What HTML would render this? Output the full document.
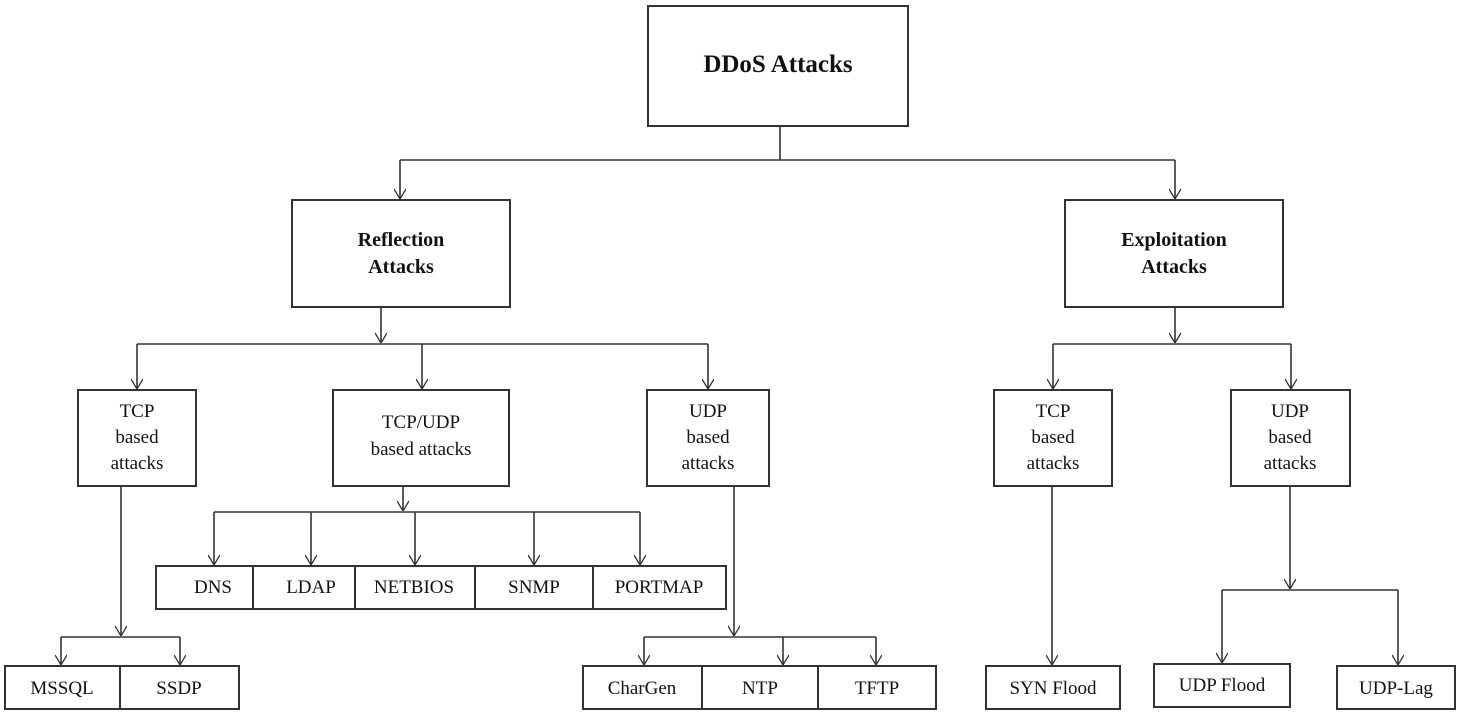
<!DOCTYPE html>
<html><head><meta charset="utf-8"><style>
html,body{margin:0;padding:0;background:#fff;}
svg{display:block;}
text{font-family:"Liberation Serif",serif;fill:#111;text-anchor:middle;}
.b{font-weight:bold;}
</style></head><body>
<svg width="1458" height="712" viewBox="0 0 1458 712" xmlns="http://www.w3.org/2000/svg">
<defs>
<marker id="a" viewBox="0 0 12 12" refX="12" refY="6" markerWidth="12" markerHeight="12" markerUnits="userSpaceOnUse" orient="auto">
<path d="M2,0 L12,6 L2,12" fill="none" stroke="#333" stroke-width="1.3"/>
</marker>
</defs>
<g fill="none" stroke="#333" stroke-width="2">
<rect x="648" y="6" width="260" height="120"/>
<rect x="292" y="200" width="218" height="107"/>
<rect x="1065" y="200" width="218" height="107"/>
<rect x="78" y="390" width="118" height="96"/>
<rect x="333" y="390" width="176" height="96"/>
<rect x="647" y="390" width="122" height="96"/>
<rect x="994" y="390" width="118" height="96"/>
<rect x="1231" y="390" width="119" height="96"/>
<rect x="156" y="566" width="570" height="43"/>
<path d="M253,566V609M355,566V609M475,566V609M593,566V609"/>
<rect x="5" y="666" width="234" height="43"/>
<path d="M120,666V709"/>
<rect x="583" y="666" width="353" height="43"/>
<path d="M702,666V709M818,666V709"/>
<rect x="986" y="666" width="134" height="43"/>
<rect x="1154" y="664" width="136" height="43"/>
<rect x="1337" y="666" width="118" height="43"/>
</g>
<g fill="none" stroke="#333" stroke-width="1.6">
<path d="M780,126V160M400,160H1175"/>
<path d="M400,160V199" marker-end="url(#a)"/>
<path d="M1175,160V199" marker-end="url(#a)"/>
<path d="M381,307V343" marker-end="url(#a)"/>
<path d="M137,344H708"/>
<path d="M137,344V389" marker-end="url(#a)"/>
<path d="M422,344V389" marker-end="url(#a)"/>
<path d="M708,344V389" marker-end="url(#a)"/>
<path d="M1175,307V343" marker-end="url(#a)"/>
<path d="M1053,344H1291"/>
<path d="M1053,344V389" marker-end="url(#a)"/>
<path d="M1291,344V389" marker-end="url(#a)"/>
<path d="M403,486V511" marker-end="url(#a)"/>
<path d="M214,512H640"/>
<path d="M214,512V565" marker-end="url(#a)"/>
<path d="M311,512V565" marker-end="url(#a)"/>
<path d="M415,512V565" marker-end="url(#a)"/>
<path d="M534,512V565" marker-end="url(#a)"/>
<path d="M640,512V565" marker-end="url(#a)"/>
<path d="M121,486V636" marker-end="url(#a)"/>
<path d="M61,637H180"/>
<path d="M61,637V665" marker-end="url(#a)"/>
<path d="M180,637V665" marker-end="url(#a)"/>
<path d="M734,486V636" marker-end="url(#a)"/>
<path d="M644,637H876"/>
<path d="M644,637V665" marker-end="url(#a)"/>
<path d="M783,637V665" marker-end="url(#a)"/>
<path d="M876,637V665" marker-end="url(#a)"/>
<path d="M1052,486V665" marker-end="url(#a)"/>
<path d="M1290,486V589" marker-end="url(#a)"/>
<path d="M1222,590H1398"/>
<path d="M1222,590V663" marker-end="url(#a)"/>
<path d="M1398,590V665" marker-end="url(#a)"/>
</g>
<text x="778" y="72" font-size="25" class="b">DDoS Attacks</text>
<text x="401" y="246" font-size="20" class="b">Reflection</text>
<text x="401" y="273" font-size="20" class="b">Attacks</text>
<text x="1174" y="246" font-size="20" class="b">Exploitation</text>
<text x="1174" y="273" font-size="20" class="b">Attacks</text>
<g font-size="19">
<text x="137" y="417">TCP</text><text x="137" y="443">based</text><text x="137" y="469">attacks</text>
<text x="421" y="428">TCP/UDP</text><text x="421" y="455">based attacks</text>
<text x="708" y="417">UDP</text><text x="708" y="443">based</text><text x="708" y="469">attacks</text>
<text x="1053" y="417">TCP</text><text x="1053" y="443">based</text><text x="1053" y="469">attacks</text>
<text x="1290" y="417">UDP</text><text x="1290" y="443">based</text><text x="1290" y="469">attacks</text>
<text x="213" y="593">DNS</text><text x="311" y="593">LDAP</text><text x="414" y="593">NETBIOS</text><text x="534" y="593">SNMP</text><text x="659" y="593">PORTMAP</text>
<text x="62" y="694">MSSQL</text><text x="179" y="694">SSDP</text>
<text x="642" y="694">CharGen</text><text x="760" y="694">NTP</text><text x="877" y="694">TFTP</text>
<text x="1053" y="694">SYN Flood</text>
<text x="1222" y="691">UDP Flood</text>
<text x="1396" y="694">UDP-Lag</text>
</g>
</svg>
</body></html>
